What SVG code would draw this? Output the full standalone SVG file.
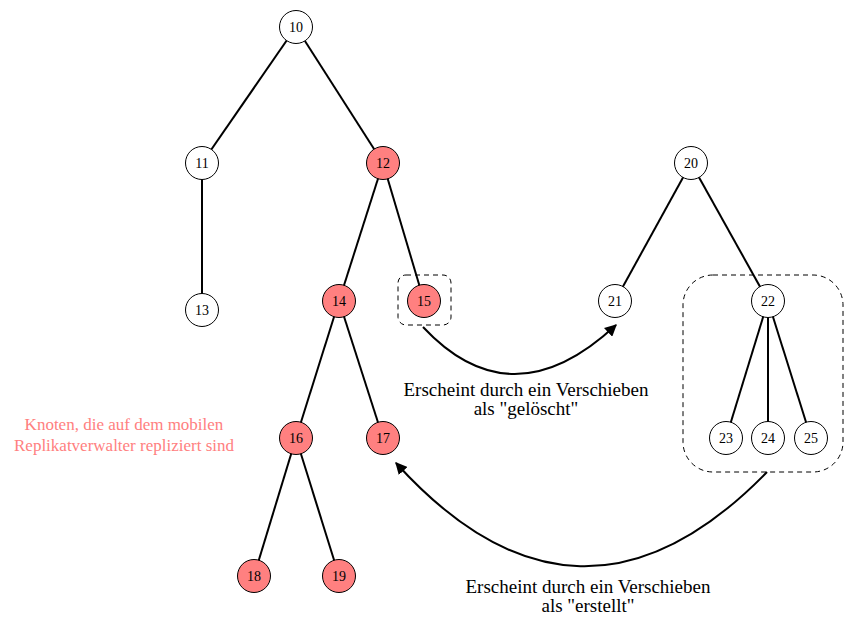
<svg xmlns="http://www.w3.org/2000/svg" width="845" height="617" viewBox="0 0 845 617">
  <style>
    .edge { stroke: #000; stroke-width: 2; fill: none; }
    .move { stroke: #000; stroke-width: 2; fill: none; marker-end: url(#arrow); }
    .box { stroke: #000; stroke-width: 1; stroke-dasharray: 5 4; fill: none; }
    .node circle { stroke: #000; stroke-width: 1; fill: #fff; }
    .node.rep circle { fill: #ff8080; }
    .node text { font-family: "Liberation Serif", "Times New Roman", serif; font-size: 14px; text-anchor: middle; dominant-baseline: central; fill: #000; }
    .note { font-family: "Liberation Serif", "Times New Roman", serif; font-size: 19px; text-anchor: middle; fill: #000; }
    .legend { font-family: "Liberation Serif", "Times New Roman", serif; font-size: 17px; text-anchor: middle; fill: #ff8080; }
  </style>
  <defs>
    <marker id="arrow" viewBox="0 0 10 10" refX="9" refY="5" markerWidth="6" markerHeight="6" orient="auto" markerUnits="strokeWidth">
      <path d="M0,0 L10,5 L0,10 Z" fill="#000"/>
    </marker>
  </defs>
  <rect width="845" height="617" fill="#fff"/>

  <!-- group outlines -->
  <rect class="box" x="398" y="275" width="53" height="50" rx="8"/>
  <rect class="box" x="683" y="275" width="160" height="197" rx="30"/>

  <g id="connectors">
    <line class="edge" x1="296" y1="27" x2="202" y2="163"/>
    <line class="edge" x1="296" y1="27" x2="383" y2="163"/>
    <line class="edge" x1="202" y1="163" x2="202" y2="310"/>
    <line class="edge" x1="383" y1="163" x2="339" y2="301"/>
    <line class="edge" x1="383" y1="163" x2="424" y2="301"/>
    <line class="edge" x1="339" y1="301" x2="296" y2="438"/>
    <line class="edge" x1="339" y1="301" x2="383" y2="438"/>
    <line class="edge" x1="296" y1="438" x2="254" y2="576"/>
    <line class="edge" x1="296" y1="438" x2="339" y2="576"/>
    <line class="edge" x1="691" y1="163" x2="615" y2="301"/>
    <line class="edge" x1="691" y1="163" x2="768" y2="301"/>
    <line class="edge" x1="768" y1="301" x2="726" y2="438"/>
    <line class="edge" x1="768" y1="301" x2="768" y2="438"/>
    <line class="edge" x1="768" y1="301" x2="811" y2="438"/>
    <path class="move" d="M423,327 Q512,422 616,325"/>
    <path class="move" d="M767,472 Q579,665 396,463"/>
  </g>

  <g id="n10" class="node"><circle cx="296" cy="27" r="16.5"/><text x="296" y="27">10</text></g>
  <g id="n11" class="node"><circle cx="202" cy="163" r="16.5"/><text x="202" y="163">11</text></g>
  <g id="n12" class="node rep"><circle cx="383" cy="163" r="16.5"/><text x="383" y="163">12</text></g>
  <g id="n13" class="node"><circle cx="202" cy="310" r="16.5"/><text x="202" y="310">13</text></g>
  <g id="n14" class="node rep"><circle cx="339" cy="301" r="16.5"/><text x="339" y="301">14</text></g>
  <g id="n15" class="node rep"><circle cx="424" cy="301" r="16.5"/><text x="424" y="301">15</text></g>
  <g id="n16" class="node rep"><circle cx="296" cy="438" r="16.5"/><text x="296" y="438">16</text></g>
  <g id="n17" class="node rep"><circle cx="383" cy="438" r="16.5"/><text x="383" y="438">17</text></g>
  <g id="n18" class="node rep"><circle cx="254" cy="576" r="16.5"/><text x="254" y="576">18</text></g>
  <g id="n19" class="node rep"><circle cx="339" cy="576" r="16.5"/><text x="339" y="576">19</text></g>
  <g id="n20" class="node"><circle cx="691" cy="163" r="16.5"/><text x="691" y="163">20</text></g>
  <g id="n21" class="node"><circle cx="615" cy="301" r="16.5"/><text x="615" y="301">21</text></g>
  <g id="n22" class="node"><circle cx="768" cy="301" r="16.5"/><text x="768" y="301">22</text></g>
  <g id="n23" class="node"><circle cx="726" cy="438" r="16.5"/><text x="726" y="438">23</text></g>
  <g id="n24" class="node"><circle cx="768" cy="438" r="16.5"/><text x="768" y="438">24</text></g>
  <g id="n25" class="node"><circle cx="811" cy="438" r="16.5"/><text x="811" y="438">25</text></g>

  <g id="labels">
    <text class="note" x="526" y="396">Erscheint durch ein Verschieben</text>
    <text class="note" x="526" y="415">als "gelöscht"</text>
    <text class="note" x="588" y="593">Erscheint durch ein Verschieben</text>
    <text class="note" x="588" y="612">als "erstellt"</text>
    <text class="legend" x="124" y="430">Knoten, die auf dem mobilen</text>
    <text class="legend" x="124" y="451">Replikatverwalter repliziert sind</text>
  </g>
</svg>
